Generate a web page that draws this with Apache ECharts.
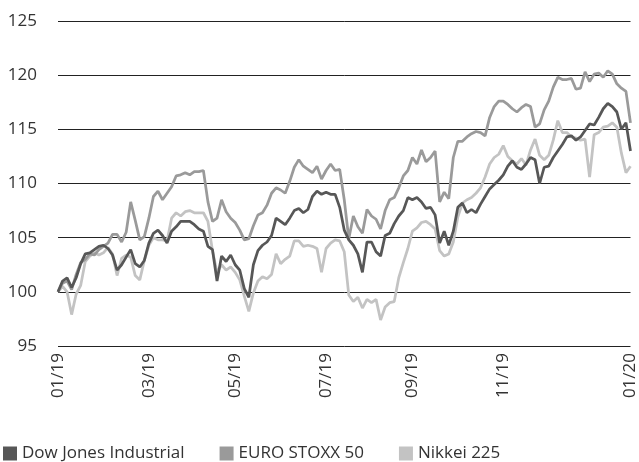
<!DOCTYPE html>
<html>
<head>
<meta charset="utf-8">
<script src="https://cdn.jsdelivr.net/npm/echarts@6/dist/echarts.min.js"></script>
<style>
html,body{margin:0;padding:0;background:#fff;}
#c{width:639px;height:462px;}
</style>
</head>
<body>
<div id="c"></div>
<script>
const seriesNames = ['Dow Jones Industrial', 'EURO STOXX 50', 'Nikkei 225'];
const tickLabels = ['01/19', '03/19', '05/19', '07/19', '09/19', '11/19', '01/20'];
const tickIndex = [0, 20, 39, 59, 78, 98, 126];
const yTicks = [95, 100, 105, 110, 115, 120, 125];

const dow = [100,101.0,101.3,100.4,101.3,102.6,103.5,103.6,103.9,104.2,
104.3,104.0,103.4,102.0,102.5,103.2,103.9,102.6,102.3,102.9,
104.5,105.4,105.7,105.2,104.5,105.6,106.0,106.5,106.5,106.5,
106.2,105.8,105.6,104.2,103.9,101.0,103.3,102.8,103.4,102.5,
102.0,100.3,99.5,102.5,103.8,104.3,104.6,105.2,106.8,106.5,
106.2,106.8,107.5,107.7,107.3,107.6,108.8,109.3,109.0,109.2,
109.0,109.0,107.8,105.7,104.8,104.3,103.5,101.8,104.6,104.6,
103.7,103.3,105.2,105.4,106.3,107.0,107.5,108.7,108.5,108.7,
108.3,107.7,107.8,107.1,104.5,105.6,104.3,105.6,107.8,108.2,
107.3,107.6,107.3,108.1,108.8,109.5,109.9,110.3,110.8,111.6,
112.1,111.5,111.3,111.8,112.4,112.2,110.0,111.5,111.6,112.4,
113.0,113.6,114.3,114.4,114.0,114.3,114.9,115.5,115.4,116.1,
116.9,117.4,117.1,116.6,115.0,115.6,113.0];

const euro = [100,100.8,101.0,100.2,101.6,102.7,103.0,103.5,103.4,103.9,
104.2,104.5,105.3,105.3,104.6,105.5,108.3,106.6,104.8,105.1,
106.8,108.8,109.3,108.5,109.1,109.7,110.7,110.8,111.0,110.8,
111.1,111.1,111.2,108.3,106.5,106.8,108.5,107.4,106.8,106.4,
105.7,104.8,104.9,106.1,107.1,107.3,108.0,109.1,109.6,109.4,
109.1,110.2,111.5,112.2,111.6,111.3,111.0,111.6,110.4,111.2,
111.8,111.2,111.3,108.5,104.9,107.0,106.0,105.4,107.6,107.0,
106.7,105.8,107.5,108.5,108.7,109.6,110.7,111.2,112.4,111.8,
113.1,112.0,112.4,113.0,108.3,109.2,108.6,112.4,113.9,113.9,
114.3,114.6,114.8,114.7,114.4,116.1,117.1,117.6,117.6,117.3,
116.9,116.6,117.0,117.3,117.1,115.2,115.5,116.8,117.6,118.9,
119.8,119.6,119.6,119.7,118.7,118.8,120.3,119.4,120.1,120.2,
119.8,120.4,120.1,119.2,118.8,118.5,115.6];

const nikkei = [100,100.5,100.0,97.9,99.8,100.6,102.8,103.3,103.6,103.4,
103.6,104.1,103.5,101.5,103.1,103.4,103.2,101.5,101.1,102.9,
104.3,105.0,104.8,104.8,104.7,106.8,107.3,107.0,107.4,107.5,
107.3,107.3,107.3,106.5,103.8,101.8,102.5,102.0,102.3,101.8,
101.1,99.6,98.2,99.9,101.0,101.4,101.2,101.6,103.5,102.6,
103.0,103.3,104.7,104.7,104.2,104.3,104.2,104.0,101.8,104.0,
104.5,104.8,104.7,103.7,99.7,99.1,99.5,98.5,99.3,99.0,
99.3,97.4,98.6,99.0,99.1,101.3,102.7,104.0,105.6,105.9,
106.4,106.5,106.2,105.8,103.8,103.3,103.5,104.6,106.9,108.2,
108.5,108.7,109.1,109.6,110.6,111.8,112.4,112.7,113.5,112.5,
112.1,111.8,112.3,111.7,113.1,114.1,112.6,112.2,112.6,114.0,
115.8,114.7,114.7,114.3,114.2,114.0,114.1,110.6,114.5,114.7,
115.2,115.3,115.6,115.2,112.8,111.0,111.6];

const categories = dow.map(function (_, i) {
  const k = tickIndex.indexOf(i);
  return k >= 0 ? tickLabels[k] : String(i);
});

const FONT = '"Open Sans", "Noto Sans", sans-serif';
const colors = ['#575757', '#9a9a9a', '#c3c3c3'];

const chart = echarts.init(document.getElementById('c'), null, {renderer: 'canvas'});
chart.setOption({
  animation: false,
  backgroundColor: '#ffffff',
  color: colors,
  textStyle: {fontFamily: FONT},
  grid: {left: 58, right: 7, top: 21, bottom: 116, containLabel: false},
  legend: {
    data: seriesNames,
    left: 0,
    top: 440,
    padding: [5, 5, 5, 3],
    icon: 'rect',
    itemWidth: 14,
    itemHeight: 14,
    itemGap: 35,
    textStyle: {fontSize: 17, color: '#333333', fontFamily: FONT}
  },
  xAxis: {
    type: 'category',
    data: categories,
    boundaryGap: false,
    axisLine: {show: false},
    axisTick: {show: false},
    splitLine: {show: false},
    axisLabel: {
      rotate: 90,
      margin: 7,
      fontSize: 17,
      color: '#333333',
      fontFamily: FONT,
      interval: function (idx) { return tickIndex.indexOf(idx) >= 0; }
    }
  },
  yAxis: {
    type: 'value',
    min: yTicks[0],
    max: yTicks[yTicks.length - 1],
    interval: 5,
    axisLine: {show: false},
    axisTick: {show: false},
    axisLabel: {fontSize: 17, color: '#333333', margin: 21, fontFamily: FONT},
    splitLine: {lineStyle: {color: '#222222', width: 1}}
  },
  series: [
    {name: seriesNames[0], type: 'line', data: dow, showSymbol: false, z: 4,
     lineStyle: {width: 2.75, color: colors[0]}},
    {name: seriesNames[1], type: 'line', data: euro, showSymbol: false, z: 3,
     lineStyle: {width: 2.75, color: colors[1]}},
    {name: seriesNames[2], type: 'line', data: nikkei, showSymbol: false, z: 2,
     lineStyle: {width: 2.75, color: colors[2]}}
  ]
});
</script>
</body>
</html>
